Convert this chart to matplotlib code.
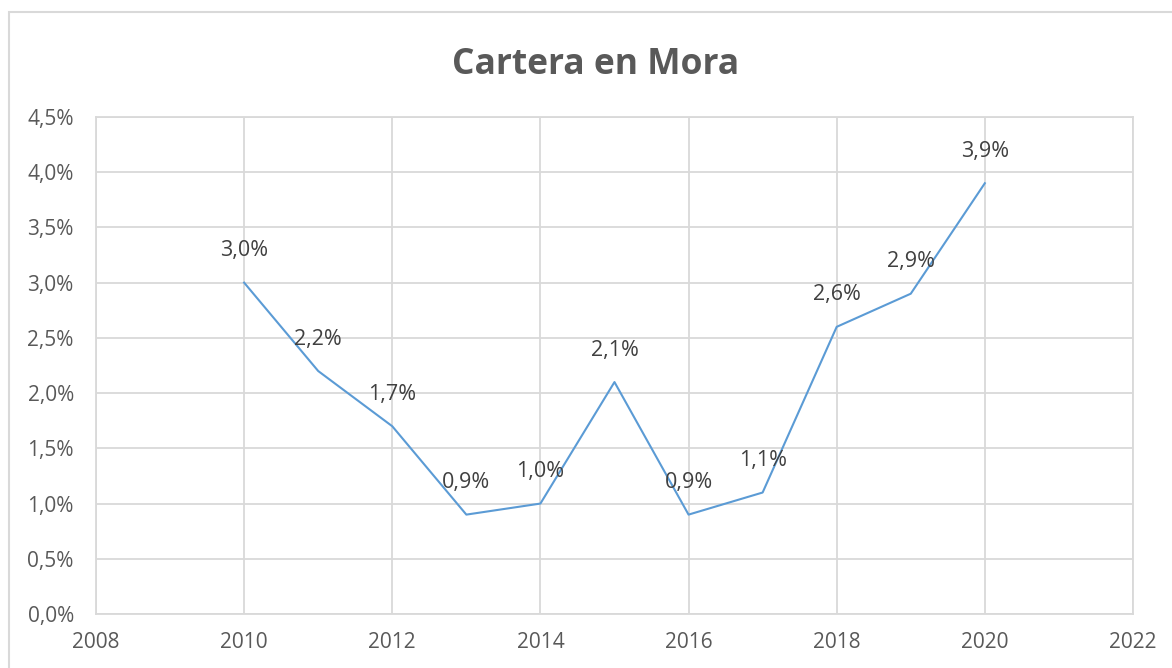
import matplotlib
matplotlib.use("Agg")
import matplotlib.pyplot as plt
from matplotlib.patches import Rectangle
from matplotlib.ticker import FuncFormatter, MultipleLocator

years = [2010, 2011, 2012, 2013, 2014, 2015, 2016, 2017, 2018, 2019, 2020]
mora = [3.0, 2.2, 1.7, 0.9, 1.0, 2.1, 0.9, 1.1, 2.6, 2.9, 3.9]

plt.rcParams['font.family'] = ['Open Sans', 'DejaVu Sans']

fig = plt.figure(figsize=(11.72, 6.68), dpi=100)
ax = fig.add_axes([0.0819, 0.0808, 0.8848, 0.7441])

# chart border
fig.patches.append(Rectangle((9 / 1172, -0.1), 1.2, (668 - 12) / 668 + 0.1,
                             transform=fig.transFigure, fill=False,
                             edgecolor="#d9d9d9", linewidth=1.5))

ax.plot(years, mora, color="#5b9bd5", linewidth=1.5)
for x, y in zip(years, mora):
    ax.annotate(f"{y:.1f}%".replace(".", ","), (x, y), xytext=(0, 23),
                textcoords="offset points", ha="center", va="center",
                fontsize=15.5, color="#404040")

ax.set_xlim(2008, 2022)
ax.set_ylim(0, 4.5)
ax.xaxis.set_major_locator(MultipleLocator(2))
ax.yaxis.set_major_locator(MultipleLocator(0.5))
ax.yaxis.set_major_formatter(FuncFormatter(lambda v, p: f"{v:.1f}%".replace(".", ",")))
ax.grid(True, color="#d9d9d9", linewidth=1.3)
ax.set_axisbelow(True)
for s in ax.spines.values():
    s.set_color("#d9d9d9")
    s.set_linewidth(1.3)
ax.tick_params(length=0, labelsize=15, labelcolor="#595959")
ax.tick_params(axis="x", pad=13)
ax.tick_params(axis="y", pad=16)

fig.text(596 / 1172, (668 - 65) / 668, "Cartera en Mora", ha="center", va="center",
         fontsize=25.5, fontweight="bold", color="#595959")

fig.savefig("out.png", dpi=100)
